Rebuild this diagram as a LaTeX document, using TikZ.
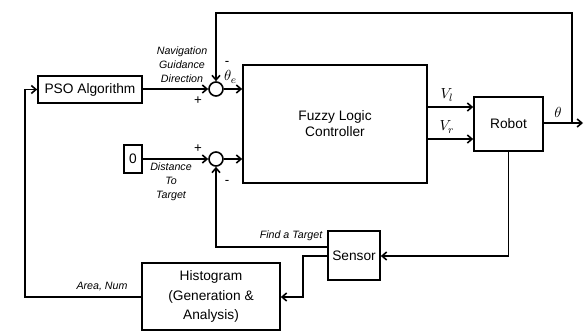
\documentclass[tikz,border=0pt]{standalone}
\usepackage{fontspec}
\setmainfont{Liberation Sans}
\usetikzlibrary{arrows.meta}
\begin{document}
\begin{tikzpicture}[x=0.75pt,y=-0.75pt,
  blk/.style={draw,line width=1.2pt,inner sep=0pt,font=\fontsize{10.3}{12}\selectfont,align=center},
  sumc/.style={draw,circle,line width=1.2pt,minimum size=10.5pt,inner sep=0pt},
  lbl/.style={font=\fontsize{8}{10.5}\selectfont\itshape,inner sep=0pt,align=center},
  sgn/.style={font=\fontsize{10}{11}\selectfont,inner sep=0pt},
  mth/.style={inner sep=0pt,font=\fontsize{11}{12}\selectfont},
  wire/.style={line width=1.2pt},
  arr/.style={wire,-{Straight Barb[length=3.5pt,width=6pt,line width=1.2pt]}}]
\useasboundingbox (0,0) rectangle (584,332);
% blocks
\node[blk,minimum width=78pt,minimum height=20.25pt] (pso) at (90,89.5) {PSO Algorithm};
\node[blk,minimum width=13.5pt,minimum height=21pt] (zero) at (133,159) {0};
\node[sumc] (s1) at (216,89) {};
\node[sumc] (s2) at (216,159) {};
\node[blk,minimum width=138pt,minimum height=88.5pt] (flc) at (335,124) {Fuzzy Logic\\Controller};
\node[blk,minimum width=51.75pt,minimum height=40.5pt] (robot) at (508.5,124) {Robot};
\node[blk,minimum width=39pt,minimum height=36.75pt] (sensor) at (354,255.5) {Sensor};
\node[blk,minimum width=103.5pt,minimum height=50.25pt,font=\fontsize{10.3}{14.5}\selectfont] (hist) at (211,296.5) {Histogram\\(Generation \&\\Analysis)};
% coordinates
\coordinate (out) at (583,123);
\coordinate (br) at (572,123);
\coordinate (tr) at (572,13);
\coordinate (tl) at (216,13);
\coordinate (rb) at (508.5,256);
\coordinate (fl) at (216,247);
\coordinate (sh1) at (303,256);
\coordinate (sh2) at (303,297);
\coordinate (hl) at (25,297);
\coordinate (pl) at (25,89.5);
% connectors
\draw[arr] (pso.east |- s1) -- (s1);
\draw[arr] (s1) -- (flc.west |- s1);
\draw[arr] (zero) -- (s2);
\draw[arr] (s2) -- (flc.west |- s2);
\draw[arr] (flc.east |- 0,107) -- (robot.west |- 0,107);
\draw[arr] (flc.east |- 0,139) -- (robot.west |- 0,139);
\draw[arr] (robot.east |- out) -- (out);
\draw[arr] (br) -- (tr) -- (tl) -- (s1);
\draw[arr] (robot.south) -- (rb) -- (sensor.east |- rb);
\draw[arr] (sensor.west |- fl) -- (fl) -- (s2);
\draw[arr] (sensor.west |- sh1) -- (sh1) -- (sh2) -- (hist.east |- sh2);
\draw[arr] (hist.west |- hl) -- (hl) -- (pl) -- (pso.west);
% labels
\node[lbl] (nav) at (182,65) {Navigation\\Guidance\\Direction};
\node[lbl] (dist) at (171,182) {Distance\\To\\Target};
\node[lbl] (find) at (291,236) {Find a Target};
\node[lbl] (area) at (102,287) {Area, Num};
\node[sgn] (m1) at (227,63) {-};
\node[sgn] (p1) at (198,101) {+};
\node[sgn] (p2) at (198,149) {+};
\node[sgn] (m2) at (227,182) {-};
\node[mth] (te) at (230.5,77) {$\theta_e$};
\node[mth] (vl) at (447,95) {$V_l$};
\node[mth] (vr) at (447,127) {$V_r$};
\node[mth] (th) at (558,112) {$\theta$};
\end{tikzpicture}
\end{document}
